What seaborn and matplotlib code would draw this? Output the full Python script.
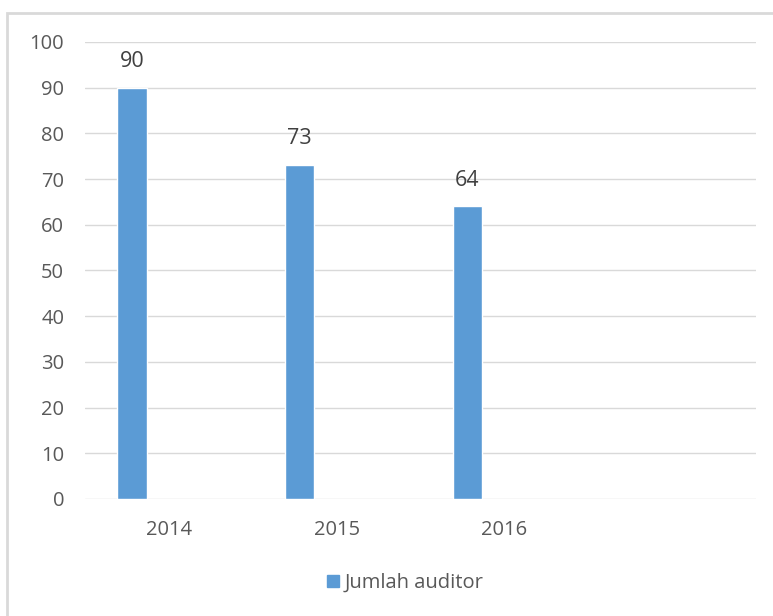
import seaborn as sns
import matplotlib.pyplot as plt
import matplotlib.patches as mpatches
import pandas as pd

years = ["2014", "2015", "2016", " "]
auditors = [90, 73, 64, None]
series = ["Jumlah auditor", "_b", "_c"]

df = pd.DataFrame({"tahun": years, "nilai": auditors, "seri": "Jumlah auditor"})

sns.set_theme(style="white")
plt.rcParams['font.family'] = ['Open Sans', 'DejaVu Sans']

fig = plt.figure(figsize=(7.73, 6.16), dpi=100)
ax = fig.add_axes([0.110, 0.190, 0.868, 0.742])

sns.barplot(data=df, x="tahun", y="nilai", hue="seri", order=years,
            hue_order=series, palette=["#5B9BD5", "#5B9BD5", "#5B9BD5"],
            width=0.66, gap=0.21, dodge=True, saturation=1, errorbar=None,
            legend=False, ax=ax)

for bar in ax.patches:
    h = bar.get_height()
    if h and h == h:
        ax.annotate(f"{h:.0f}", (bar.get_x() + bar.get_width() / 2, h),
                    xytext=(0, 19), textcoords="offset points",
                    ha="center", va="center", fontsize=15.5, color="#404040")

ax.set_ylim(0, 100)
ax.set_xlim(-0.5, 3.5)
ax.set_yticks(range(0, 101, 10))
ax.yaxis.grid(True, color="#D9D9D9", linewidth=1)
ax.set_axisbelow(True)
for s in ax.spines.values():
    s.set_visible(False)
ax.tick_params(axis="both", length=0, labelsize=14.5, labelcolor="#595959")
ax.tick_params(axis="y", pad=15)
ax.tick_params(axis="x", pad=15)
ax.set_xlabel("")
ax.set_ylabel("")

handle = mpatches.Patch(color="#5B9BD5", label="Jumlah auditor")
fig.legend(handles=[handle], loc="center", bbox_to_anchor=(405 / 773, 1 - 583 / 616),
           frameon=False, fontsize=14.5, handlelength=0.6, handleheight=0.6,
           handletextpad=0.3, labelcolor="#595959")

fig.add_artist(mpatches.Rectangle((7 / 773, -0.05), 1.1, 1 - 13 / 616 + 0.05,
                                  transform=fig.transFigure, fill=False,
                                  edgecolor="#D9D9D9", linewidth=2))

fig.savefig("out.png", dpi=100)
